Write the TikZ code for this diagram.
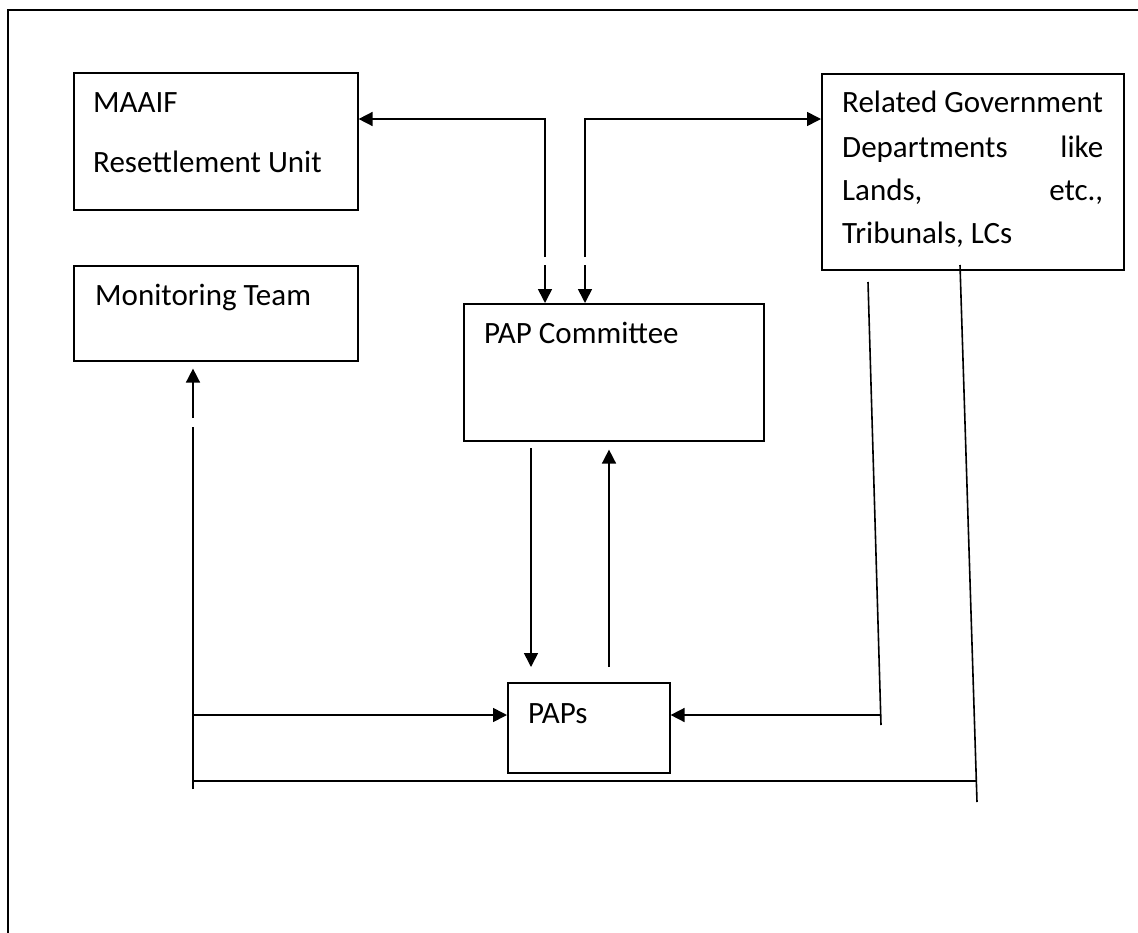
\documentclass[tikz,border=0pt]{standalone}
\usepackage{fontspec}
\setmainfont{Carlito}
\usetikzlibrary{arrows.meta}
\begin{document}
\begin{tikzpicture}[x=1pt,y=-1pt,
  box/.style={draw,line width=1.6pt,rectangle,inner sep=0pt,anchor=north west},
  txt/.style={anchor=base west,inner sep=0pt,font=\fontsize{31}{37}\selectfont},
  conn/.style={line width=1.6pt},
  arr/.style={conn,-{Triangle[length=14pt,width=14pt]}}]
\useasboundingbox (0,0) rectangle (1138,932);
% outer frame (only top and left visible)
\coordinate (fbl) at (8,940);
\coordinate (ftl) at (8,10);
\coordinate (ftr) at (1145,10);
\draw[line width=2.6pt] (fbl) -- (ftl) -- (ftr);
% boxes
\node[box,minimum width=284pt,minimum height=137pt] (maaif) at (73,72) {};
\node[box,minimum width=284pt,minimum height=95pt] (mon) at (73,265) {};
\node[box,minimum width=300pt,minimum height=137pt] (pap) at (463,303) {};
\node[box,minimum width=302pt,minimum height=196pt] (gov) at (821,73) {};
\node[box,minimum width=162pt,minimum height=90pt] (paps) at (507,682) {};
% texts
\node[txt] (t1) at (93,112) {MAAIF};
\node[txt] (t2) at (93,172) {Resettlement Unit};
\node[txt] (t3) at (95,305) {Monitoring Team};
\node[txt] (t4) at (484,343) {PAP Committee};
\node[txt] (t5) at (528,723) {PAPs};
\node[txt] (g1) at (842,112) {Related Government};
\node[txt] (g2) at (842,157) {\makebox[261pt]{Departments\hfill like}};
\node[txt] (g3) at (842,200) {\makebox[261pt]{Lands,\hfill etc.,}};
\node[txt] (g4) at (842,243) {Tribunals, LCs};
% top connectors
\coordinate (a1) at (545,119);
\coordinate (a2) at (545,257);
\coordinate (a3) at (545,265);
\draw[arr] (a2) -- (a1) -- (a1 -| maaif.east);
\draw[arr] (a3) -- (a3 |- pap.north);
\coordinate (b1) at (585,119);
\coordinate (b2) at (585,257);
\coordinate (b3) at (585,265);
\draw[arr] (b2) -- (b1) -- (b1 -| gov.west);
\draw[arr] (b3) -- (b3 |- pap.north);
% committee <-> PAPs
\coordinate (d1) at (531,448);
\draw[arr,shorten >=15pt] (d1) -- (d1 |- paps.north);
\coordinate (u1) at (609,667);
\draw[arr,shorten >=8pt] (u1) -- (u1 |- pap.south);
% monitoring line
\coordinate (m1) at (193,789);
\coordinate (m2) at (193,427);
\coordinate (m3) at (193,418);
\coordinate (mh) at (193,715);
\coordinate (mb) at (193,781);
\draw[conn] (m1) -- (m2);
\draw[arr,shorten >=7pt] (m3) -- (m3 |- mon.south);
\draw[arr] (mh) -- (mh -| paps.west);
\coordinate (rb) at (977,781);
\draw[conn] (mb) -- (rb);
% right lines
\coordinate (r1) at (960,265);
\coordinate (r2) at (977,802);
\draw[conn] (r1) -- (r2);
\coordinate (s1) at (868,282);
\coordinate (s2) at (881,725);
\coordinate (sh) at (881,715);
\draw[conn] (s1) -- (s2);
\draw[arr] (sh) -- (sh -| paps.east);
\end{tikzpicture}
\end{document}
